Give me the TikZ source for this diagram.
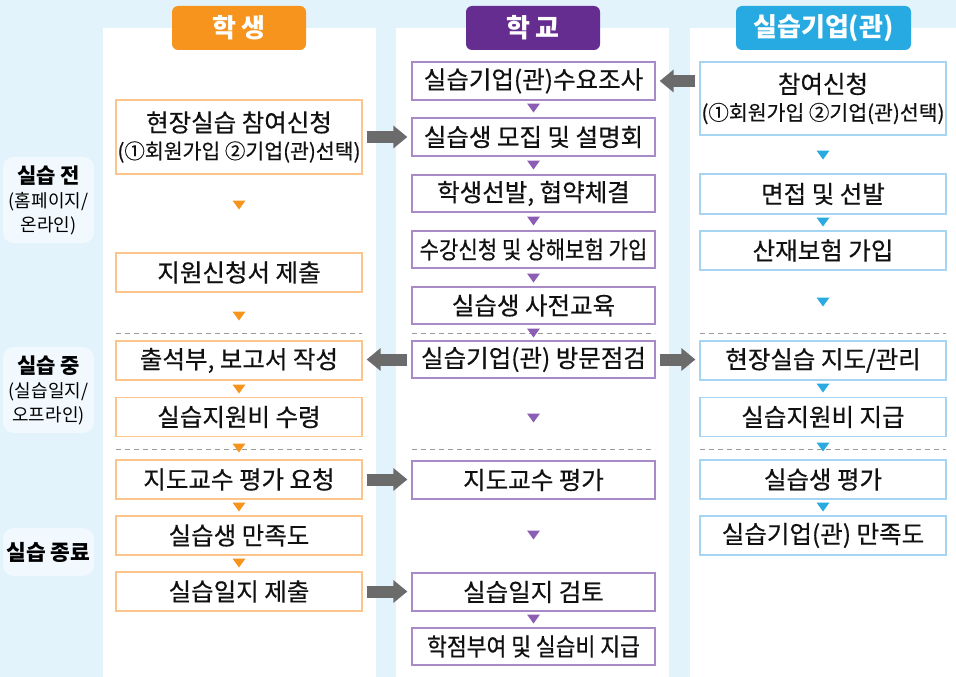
\documentclass[tikz,border=0pt]{standalone}
\usepackage{fontspec}
\setmainfont{Noto Sans CJK KR}
\newfontfamily\krm{Noto Sans CJK KR}[FakeBold=0.5]
\newfontfamily\krn{Noto Sans CJK KR}[FakeBold=0.5,FakeStretch=0.88]
\usetikzlibrary{arrows.meta}
\definecolor{bgc}{HTML}{E3F3FB}
\definecolor{lblc}{HTML}{F1F9FE}
\definecolor{hor}{HTML}{F7941D}
\definecolor{hpu}{HTML}{662D91}
\definecolor{hbl}{HTML}{27AAE1}
\definecolor{bor}{HTML}{FBC58C}
\definecolor{bpu}{HTML}{A88BC6}
\definecolor{bbl}{HTML}{A5D5F2}
\definecolor{tor}{HTML}{F7941D}
\definecolor{tpu}{HTML}{8B5DB5}
\definecolor{tbl}{HTML}{29ABE2}
\definecolor{garr}{HTML}{6B6B6B}
\definecolor{dgr}{HTML}{9A9A9A}
\definecolor{txt}{HTML}{111111}
\tikzset{
  box/.style={draw, line width=1.3pt, fill=white, inner sep=0pt, minimum height=39pt,
    text=txt, align=center, font=\krm\fontsize{24.5}{28}\selectfont},
  sbox/.style={box, draw=bor, minimum width=246pt},
  cbox/.style={box, draw=bpu, minimum width=243pt},
  kbox/.style={box, draw=bbl, minimum width=246pt},
  head/.style={rounded corners=6pt, inner sep=0pt, minimum height=44pt, text=white,
    font=\fontsize{26}{30}\selectfont\bfseries},
  lbl/.style={fill=lblc, rounded corners=11pt, inner sep=0pt, minimum width=91pt, align=center, text=black,
    font=\fontsize{18}{24}\selectfont},
  garrow/.style={draw=garr, line width=12pt, -{Triangle[length=14pt,width=22pt]}, shorten <=4pt, shorten >=4pt},
  sep/.style={draw=dgr, line width=1pt, dash pattern=on 5pt off 4pt},
  dtri/.pic={\fill[#1] (-6.5,-4.5) -- (6.5,-4.5) -- (0,4.5) -- cycle;}
}
\begin{document}
\begin{tikzpicture}[x=1pt,y=-1pt]
\fill[bgc] (0,0) rectangle (956,677);
\useasboundingbox (0,0) rectangle (956,677);
% columns
\fill[white] (103,28) rectangle (376,677);
\fill[white] (396,28) rectangle (669,677);
\fill[white] (690,28) rectangle (956,677);
% headers
\node[head, fill=hor, minimum width=134pt] (hs) at (239,28) {학 생};
\node[head, fill=hpu, minimum width=134pt] (hc) at (533,28) {학 교};
\node[head, fill=hbl, minimum width=175pt] (hk) at (823.5,28) {실습기업(관)};
% left labels
\node[lbl, minimum height=86pt] (l1) at (48.5,200) {{\fontsize{21}{24}\selectfont\bfseries 실습 전}\\{(홈페이지/}\\{온라인)}};
\node[lbl, minimum height=86pt] (l2) at (48.5,390) {{\fontsize{21}{24}\selectfont\bfseries 실습 중}\\{(실습일지/}\\{오프라인)}};
\node[lbl, minimum height=48pt] (l3) at (48.5,552) {\fontsize{21.5}{24}\selectfont\bfseries 실습 종료};
% student boxes
\node[sbox, minimum height=74pt] (s1) at (239,137) {현장실습 참여신청\\[-1pt]{\fontsize{20.5}{24}\selectfont (①회원가입 ②기업(관)선택)}};
\node[sbox] (s2) at (239,272.5) {지원신청서 제출};
\node[sbox] (s3) at (239,360.5) {출석부, 보고서 작성};
\node[sbox] (s4) at (239,417) {실습지원비 수령};
\node[sbox] (s5) at (239,479.5) {지도교수 평가 요청};
\node[sbox] (s6) at (239,535.5) {실습생 만족도};
\node[sbox] (s7) at (239,591.5) {실습일지 제출};
% school boxes
\node[cbox, minimum height=38pt] (c1) at (533.5,81) {실습기업(관)수요조사};
\node[cbox, minimum height=38pt] (c2) at (533.5,137) {실습생 모집 및 설명회};
\node[cbox, minimum height=37pt] (c3) at (533.5,193.5) {학생선발, 협약체결};
\node[cbox, minimum height=37pt, font=\krn\fontsize{24}{28}\selectfont] (c4) at (533.5,249.5) {수강신청 및 상해보험 가입};
\node[cbox, minimum height=37pt] (c5) at (533.5,305.5) {실습생 사전교육};
\node[cbox, minimum height=37pt] (c6) at (533.5,359.5) {실습기업(관) 방문점검};
\node[cbox, minimum height=38pt] (c7) at (533.5,480) {지도교수 평가};
\node[cbox, minimum height=38pt] (c8) at (533.5,592) {실습일지 검토};
\node[cbox, minimum height=37pt, font=\krn\fontsize{24.5}{28}\selectfont] (c9) at (533.5,646.5) {학점부여 및 실습비 지급};
% company boxes
\node[kbox, minimum height=73pt] (k1) at (823,98.5) {참여신청\\[-1pt]{\fontsize{20.5}{24}\selectfont (①회원가입 ②기업(관)선택)}};
\node[kbox, minimum height=40pt] (k2) at (823,194) {면접 및 선발};
\node[kbox] (k3) at (823,250.5) {산재보험 가입};
\node[kbox] (k4) at (823,360.5) {현장실습 지도/관리};
\node[kbox] (k5) at (823,417) {실습지원비 지급};
\node[kbox] (k6) at (823,479.5) {실습생 평가};
\node[kbox] (k7) at (823,535.5) {실습기업(관) 만족도};
% dashed separators
\foreach \yy in {333,449} {
  \draw[sep] (116,\yy) -- (362,\yy);
  \draw[sep] (412,\yy) -- (655,\yy);
  \draw[sep] (700,\yy) -- (946,\yy);
}
% small triangles
\foreach \yy in {205,316,389,448,507,563} \pic at (239,\yy) {dtri=tor};
\foreach \yy in {108,165,221,278,333,418,535,619} \pic at (533.5,\yy) {dtri=tpu};
\foreach \yy in {155,222,302,388,447,507} \pic at (823,\yy) {dtri=tbl};
% gray block arrows
\draw[garrow] (s1.east) -- (s1.east -| c2.west);
\draw[garrow] (k1.west |- c1.east) -- (c1.east);
\draw[garrow] (c6.west) -- (c6.west -| s3.east);
\draw[garrow] (c6.east) -- (c6.east -| k4.west);
\draw[garrow] (s5.east) -- (s5.east -| c7.west);
\draw[garrow] (s7.east) -- (s7.east -| c8.west);
\end{tikzpicture}
\end{document}
